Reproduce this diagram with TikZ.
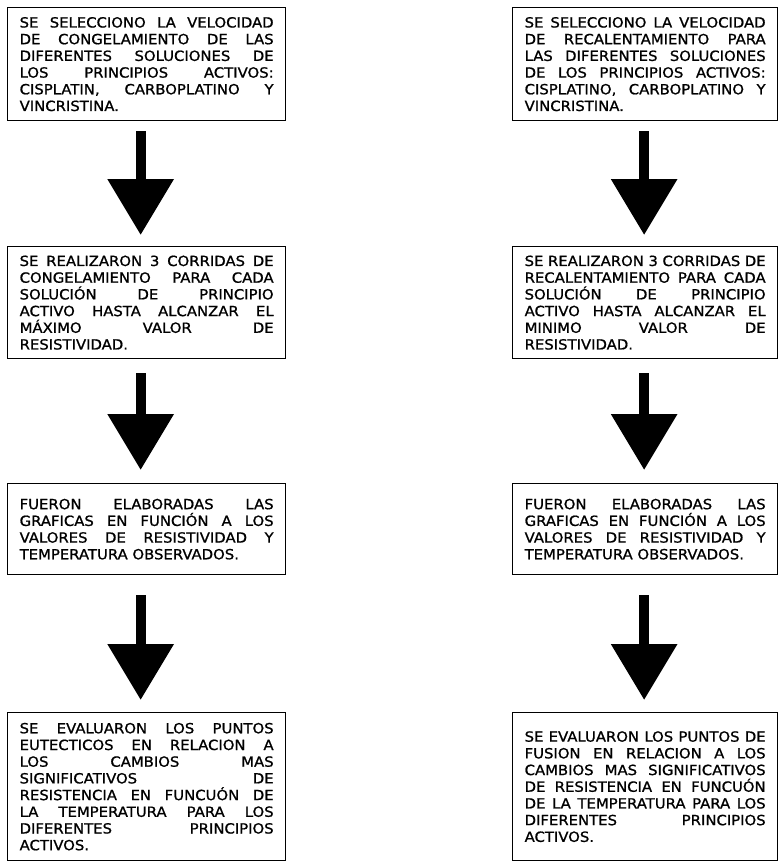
\documentclass[tikz,border=0pt]{standalone}
\usepackage{fontspec}
\setmainfont{DejaVu Sans}[FakeStretch=1.06, FakeBold=1]
\usetikzlibrary{arrows.meta}
\usetikzlibrary{math}

\begin{document}
\begin{tikzpicture}[x=1pt, y=-1pt,
  caja/.style={draw, line width=1.3pt, anchor=north west, align=justify,
    inner xsep=12pt, inner ysep=0pt, font=\fontsize{14}{16.7}\selectfont},
  cajaizq/.style={caja, text width=254pt},
  cajader/.style={caja, text width=241pt},
  flecha/.style={line width=10pt, -{Triangle[width=64pt,length=56pt]}}]
\tikzmath{
\xl=7;
\xr=512;
}
\useasboundingbox (0,0) rectangle (778,862);

% columna de congelamiento
\node[cajaizq, minimum height=113pt] (l1) at (\xl,7) {SE SELECCIONO LA VELOCIDAD\linebreak DE CONGELAMIENTO DE LAS\linebreak DIFERENTES SOLUCIONES DE\linebreak LOS PRINCIPIOS ACTIVOS:\linebreak CISPLATIN, CARBOPLATINO Y\linebreak VINCRISTINA.};
\node[cajaizq, minimum height=112pt] (l2) at (\xl,246) {SE REALIZARON 3 CORRIDAS DE\linebreak CONGELAMIENTO PARA CADA\linebreak SOLUCIÓN DE PRINCIPIO\linebreak ACTIVO HASTA ALCANZAR EL\linebreak MÁXIMO VALOR DE\linebreak RESISTIVIDAD.};
\node[cajaizq, minimum height=91pt] (l3) at (\xl,483) {FUERON ELABORADAS LAS\linebreak GRAFICAS EN FUNCIÓN A LOS\linebreak VALORES DE RESISTIVIDAD Y\linebreak TEMPERATURA OBSERVADOS.};
\node[cajaizq, minimum height=148pt] (l4) at (\xl,712) {SE EVALUARON LOS PUNTOS\linebreak EUTECTICOS EN RELACION A\linebreak LOS CAMBIOS MAS\linebreak SIGNIFICATIVOS DE\linebreak RESISTENCIA EN FUNCUÓN DE\linebreak LA TEMPERATURA PARA LOS\linebreak DIFERENTES PRINCIPIOS\linebreak ACTIVOS.};

% columna de recalentamiento
\node[cajader, minimum height=113pt] (r1) at (\xr,7) {SE SELECCIONO LA VELOCIDAD\linebreak DE RECALENTAMIENTO PARA\linebreak LAS DIFERENTES SOLUCIONES\linebreak DE LOS PRINCIPIOS ACTIVOS:\linebreak CISPLATINO, CARBOPLATINO Y\linebreak VINCRISTINA.};
\node[cajader, minimum height=112pt] (r2) at (\xr,246) {SE REALIZARON 3 CORRIDAS DE\linebreak RECALENTAMIENTO PARA CADA\linebreak SOLUCIÓN DE PRINCIPIO\linebreak ACTIVO HASTA ALCANZAR EL\linebreak MINIMO VALOR DE\linebreak RESISTIVIDAD.};
\node[cajader, minimum height=91pt] (r3) at (\xr,483) {FUERON ELABORADAS LAS\linebreak GRAFICAS EN FUNCIÓN A LOS\linebreak VALORES DE RESISTIVIDAD Y\linebreak TEMPERATURA OBSERVADOS.};
\node[cajader, minimum height=148pt] (r4) at (\xr,712) {SE EVALUARON LOS PUNTOS DE\linebreak FUSION EN RELACION A LOS\linebreak CAMBIOS MAS SIGNIFICATIVOS\linebreak DE RESISTENCIA EN FUNCUÓN\linebreak DE LA TEMPERATURA PARA LOS\linebreak DIFERENTES PRINCIPIOS\linebreak ACTIVOS.};

% flechas
\draw[flecha, shorten <=10pt, shorten >=11pt] ([xshift=-6]l1.south) -- ([xshift=-6]l2.north);
\draw[flecha, shorten <=14pt, shorten >=13pt] ([xshift=-6]l2.south) -- ([xshift=-6]l3.north);
\draw[flecha, shorten <=20pt, shorten >=12pt] ([xshift=-6]l3.south) -- ([xshift=-6]l4.north);
\draw[flecha, shorten <=10pt, shorten >=11pt] ([xshift=-1]r1.south) -- ([xshift=-1]r2.north);
\draw[flecha, shorten <=14pt, shorten >=13pt] ([xshift=-1]r2.south) -- ([xshift=-1]r3.north);
\draw[flecha, shorten <=20pt, shorten >=12pt] ([xshift=-1]r3.south) -- ([xshift=-1]r4.north);

\end{tikzpicture}
\end{document}
